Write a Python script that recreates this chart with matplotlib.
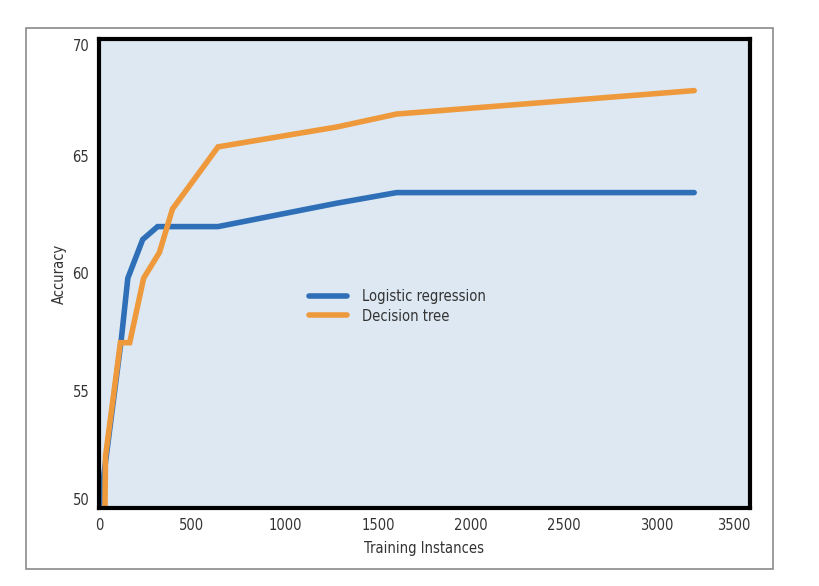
import matplotlib
matplotlib.use("Agg")
import matplotlib.pyplot as plt
from matplotlib.patches import Rectangle

plt.rcParams['font.family'] = ['DejaVu Sans']
plt.rcParams['font.stretch'] = 'condensed'

# learning curves
lr_x = [5, 120, 155, 235, 315, 640, 1280, 1600, 3200]
lr_acc = [50.1, 57.2, 59.8, 61.45, 62.0, 62.0, 63.0, 63.45, 63.45]

dt_x = [32, 35, 115, 165, 240, 325, 395, 640, 1280, 1600, 3200]
dt_acc = [50.0, 52.2, 57.05, 57.05, 59.8, 60.9, 62.75, 65.4, 66.25, 66.8, 67.8]

x_ticks = [0, 500, 1000, 1500, 2000, 2500, 3000, 3500]
y_ticks = [50, 55, 60, 65, 70]

blue = '#2e6fb7'
orange = '#ee9a3c'
text_col = '#333333'

fig = plt.figure(figsize=(8.2, 5.86), dpi=100)
ax = fig.add_axes([99 / 820, 1 - 508 / 586, 651 / 820, 469 / 586])
ax.set_facecolor('#dde8f3')

ax.plot(lr_x, lr_acc, color=blue, lw=4, solid_capstyle='round',
        solid_joinstyle='miter', label='Logistic regression')
ax.plot(dt_x, dt_acc, color=orange, lw=4, solid_capstyle='round',
        solid_joinstyle='miter', label='Decision tree')

ax.set_xlim(0, 3500)
ax.set_ylim(50, 70)
ax.set_xticks(x_ticks)
ax.set_yticks(y_ticks)
ax.tick_params(length=0, labelsize=10.5, labelcolor=text_col, pad=7)

for sp in ax.spines.values():
    sp.set_linewidth(3)
    sp.set_color('black')

# end labels are pulled inside the axis range
ax.xaxis.get_major_ticks()[-1].label1.set_ha('right')
ax.yaxis.get_major_ticks()[0].label1.set_va('bottom')
ax.yaxis.get_major_ticks()[-1].label1.set_va('top')

ax.set_xlabel('Training Instances', fontsize=10.5, color=text_col, labelpad=6)
ax.set_ylabel('Accuracy', fontsize=10.5, color=text_col, labelpad=4)

ax.legend(loc='center left', bbox_to_anchor=(0.303, 0.43), frameon=False,
          fontsize=10.5, handlelength=2.6, handletextpad=1.0,
          labelspacing=0.3, labelcolor=text_col)

# thin grey frame around the whole chart
fig.patches.append(Rectangle((26 / 820, 1 - 569 / 586), 747 / 820, 541 / 586,
                             transform=fig.transFigure, fill=False,
                             edgecolor='#8a8a8a', lw=1.2))

fig.savefig('out.png', dpi=100, facecolor='white')
